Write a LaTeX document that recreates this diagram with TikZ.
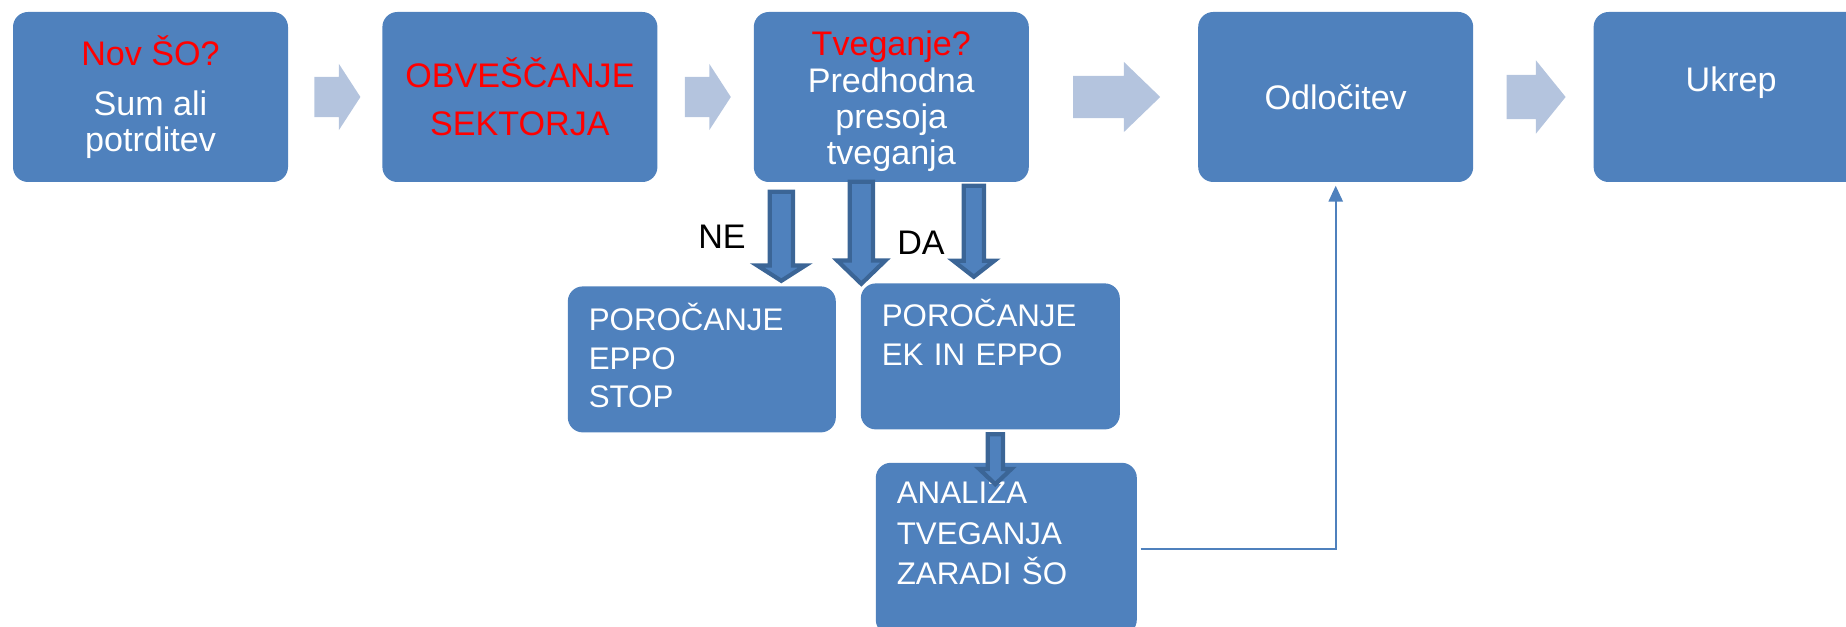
\documentclass[tikz,border=0pt]{standalone}
\usepackage{fontspec}
\setmainfont{Liberation Sans}
\usepackage{tikz}
\usepackage{xcolor}
\usetikzlibrary{positioning,shapes.arrows,arrows.meta}

\definecolor{boxblue}{HTML}{4F81BD}
\definecolor{paleblue}{HTML}{B4C4DE}
\definecolor{darkblue}{HTML}{3B6596}
\definecolor{alertred}{HTML}{FF0000}

\begin{document}
\begin{tikzpicture}[
topbox/.style={
fill=boxblue,
rounded corners=0.15cm,
minimum width=2.75cm,
minimum height=1.70cm,
inner sep=0pt,
align=center,
text=white,
font=\fontsize{9.7pt}{10.3pt}\selectfont
},
lowbox/.style={
fill=boxblue,
rounded corners=0.15cm,
minimum height=1.46cm,
inner xsep=0.21cm,
inner ysep=0pt,
align=left,
text=white,
text height=0.3cm,
font=\fontsize{8.9pt}{11pt}\selectfont
},
flowarrow/.style={
single arrow,
fill=paleblue,
inner xsep=0pt,
anchor=tail
},
downarrow/.style={
single arrow,
shape border rotate=270,
fill=boxblue,
draw=darkblue,
line width=1.2pt,
inner ysep=0pt,
anchor=tail
},
answer/.style={font=\fontsize{9.7pt}{10.3pt}\selectfont},
conn/.style={draw=boxblue, line width=0.6pt},
>={Triangle[width=4pt,length=4.5pt]}
]

\useasboundingbox (0,0) rectangle (18.46,-6.27);

\node (box1) [topbox] at (1.505,-0.97) {\textcolor{alertred}{Nov ŠO?}\\[0.14cm]Sum ali\\potrditev};

\node (box2) [topbox, right=0.93cm of box1] {\textcolor{alertred}{OBVEŠČANJE}\\[0.12cm]\textcolor{alertred}{SEKTORJA}};

\node (box3) [topbox, right=0.95cm of box2, text width=2.75cm, text height=0.3cm, text depth=1.12cm] {\textcolor{alertred}{Tveganje?}\\Predhodna\\presoja\\tveganja};

\node (box4) [topbox, right=1.68cm of box3] {Odločitev};

\node (box5) [topbox, right=1.19cm of box4, text height=0.3cm, text depth=0.4cm] {Ukrep};

\node (a1) [flowarrow, inner ysep=0.195cm, single arrow head extend=0.13cm, minimum width=0.65cm, minimum height=0.46cm, single arrow tip angle=114] at ([xshift=0.25cm]box1.east) {};
\node (a2) [flowarrow, inner ysep=0.195cm, single arrow head extend=0.13cm, minimum width=0.65cm, minimum height=0.46cm, single arrow tip angle=114] at ([xshift=0.26cm]box2.east) {};
\node (a3) [flowarrow, inner ysep=0.205cm, single arrow head extend=0.14cm, minimum width=0.69cm, minimum height=0.87cm, single arrow tip angle=88] at ([xshift=0.43cm]box3.east) {};
\node (a4) [flowarrow, inner ysep=0.215cm, single arrow head extend=0.145cm, minimum width=0.72cm, minimum height=0.59cm, single arrow tip angle=102] at ([xshift=0.32cm]box4.east) {};

\node (stop) [lowbox, below=1.03cm of box3, xshift=-1.895cm, minimum width=2.68cm, text width=2.26cm, text depth=0.88cm] {POROČANJE\\EPPO\\STOP};

\node (ekin) [lowbox, below=1.00cm of box3, xshift=0.99cm, minimum width=2.59cm, text width=2.17cm, text depth=0.9cm] {POROČANJE\\EK IN EPPO};

\node (analiza) [lowbox, below=0.32cm of ekin, xshift=0.16cm, minimum width=2.61cm, text width=2.19cm, minimum height=1.72cm, text depth=1.2cm] {ANALIZA\\[0.5pt]TVEGANJA\\[0.5pt]ZARADI ŠO};

\node (ne) [downarrow, inner xsep=0.095cm, single arrow head extend=0.125cm, minimum width=0.44cm, minimum height=0.89cm, single arrow tip angle=115] at ([shift={(-1.10,-0.07)}]box3.south) {};
\node (mid) [downarrow, inner xsep=0.095cm, single arrow head extend=0.125cm, minimum width=0.44cm, minimum height=1.02cm, single arrow tip angle=92] at ([shift={(-0.30,0.03)}]box3.south) {};
\node (da) [downarrow, inner xsep=0.08cm, single arrow head extend=0.105cm, minimum width=0.37cm, minimum height=0.91cm, single arrow tip angle=104] at ([shift={(0.825,-0.01)}]box3.south) {};
\node (ekdown) [downarrow, inner xsep=0.055cm, single arrow head extend=0.085cm, minimum width=0.28cm, minimum height=0.50cm, single arrow tip angle=93] at ([shift={(0.05,-0.02)}]ekin.south) {};

\node (nelabel) [answer] at (7.22,-2.37) {NE};
\node (dalabel) [answer] at (9.21,-2.43) {DA};

% back to the decision
\draw[conn, ->, shorten <=0.03cm, shorten >=0.03cm]
(analiza.east) -| (box4.south);

\end{tikzpicture}
\end{document}
